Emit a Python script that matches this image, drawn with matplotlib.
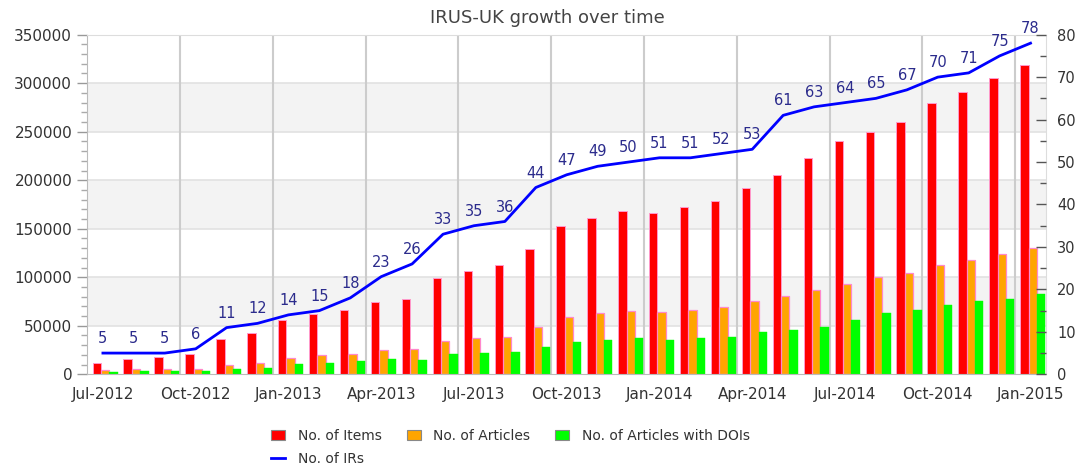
import matplotlib
matplotlib.use("Agg")
import matplotlib.pyplot as plt
import numpy as np
from matplotlib.patches import Patch
from matplotlib.lines import Line2D
from matplotlib.ticker import MultipleLocator

months = ['Jul-2012', 'Aug-2012', 'Sep-2012', 'Oct-2012', 'Nov-2012', 'Dec-2012',
          'Jan-2013', 'Feb-2013', 'Mar-2013', 'Apr-2013', 'May-2013', 'Jun-2013',
          'Jul-2013', 'Aug-2013', 'Sep-2013', 'Oct-2013', 'Nov-2013', 'Dec-2013',
          'Jan-2014', 'Feb-2014', 'Mar-2014', 'Apr-2014', 'May-2014', 'Jun-2014',
          'Jul-2014', 'Aug-2014', 'Sep-2014', 'Oct-2014', 'Nov-2014', 'Dec-2014',
          'Jan-2015']
items = [12000, 15800, 18200, 21000, 36400, 42600, 55600, 61800, 66000, 74500, 77300,
         98900, 106500, 113000, 129500, 152500, 161400, 168000, 166600, 172800, 178300,
         192000, 205100, 222900, 240800, 249700, 259700, 279300, 290600, 305700, 318400]
articles = [4100, 5500, 5500, 5500, 9300, 12000, 16500, 19600, 21000, 24700, 26100,
            34700, 37100, 38500, 48800, 59100, 62900, 65300, 63900, 66600, 69400,
            75600, 80700, 87200, 93400, 100000, 104800, 112700, 117800, 124000, 130500]
dois = [2750, 3100, 3100, 3800, 5500, 6500, 10600, 11700, 13400, 15500, 14400,
        20600, 22000, 23400, 28200, 33300, 35700, 37100, 35700, 37100, 38500,
        43600, 46000, 48800, 56300, 62900, 66600, 71800, 75600, 78000, 83100]
irs = [5, 5, 5, 6, 11, 12, 14, 15, 18, 23, 26, 33, 35, 36, 44, 47, 49, 50, 51, 51,
       52, 53, 61, 63, 64, 65, 67, 70, 71, 75, 78]

plt.rcParams['font.family'] = ['DejaVu Sans']

fig = plt.figure(figsize=(10.77, 4.68), dpi=100)
ax = fig.add_axes([0.0812, 0.2002, 0.8900, 0.7257])

x = np.arange(len(months))
ax.set_xlim(-0.5, len(months) - 0.5)
ax.set_ylim(0, 350000)

# alternating bands + grid
for lo in range(50000, 350000, 100000):
    ax.axhspan(lo, lo + 50000, color='#f3f3f3', zorder=0, lw=0)
for yv in range(50000, 350000, 50000):
    ax.axhline(yv, color='#e2e2e2', lw=1.2, zorder=0.5)
for i in range(3, len(months), 3):
    ax.axvline(i - 0.5, color='#cccccc', lw=1.5, zorder=0.5)

w = 0.27
ax.bar(x - 0.20, items, width=w, color='#ff0000', edgecolor='#ff99cc', lw=0.7, zorder=2)
ax.bar(x + 0.07, articles, width=w, color='#ffa500', edgecolor='#ff88cc', lw=0.9, zorder=2)
ax.bar(x + 0.34, dois, width=w, color='#00ff00', edgecolor='#00ff00', lw=0.3, zorder=2)

ax.set_xticks(x[::3])
ax.set_xticklabels(months[::3])
ax.tick_params(axis='x', length=0, pad=9, labelsize=11, labelcolor='#333333')
ax.yaxis.set_major_locator(MultipleLocator(50000))
ax.yaxis.set_minor_locator(MultipleLocator(10000))
ax.tick_params(axis='y', which='major', length=7, width=1, color='#999999',
               labelsize=11, labelcolor='#333333', pad=4)
ax.tick_params(axis='y', which='minor', length=4, width=1, color='#aaaaaa')

for s in ['top', 'right']:
    ax.spines[s].set_color('#dddddd')
ax.spines['left'].set_color('#bbbbbb')
ax.spines['bottom'].set_color('#bbbbbb')

ax2 = ax.twinx()
ax2.set_ylim(0, 80)
ax2.plot(x, irs, color='#0000ff', lw=2, zorder=5)
for xi, v in zip(x, irs):
    ax2.annotate(str(v), (xi, v), xytext=(0, 5), textcoords='offset points',
                 ha='center', va='bottom', fontsize=10.5, color='#2b2b8c')
ax2.yaxis.set_major_locator(MultipleLocator(10))
ax2.yaxis.set_minor_locator(MultipleLocator(5))
ax2.tick_params(axis='y', which='major', direction='in', length=7, width=1,
                color='#555555', labelsize=10.5, labelcolor='#333333', pad=8)
ax2.tick_params(axis='y', which='minor', direction='in', length=4, width=1,
                color='#555555')
for s in ['top', 'right', 'left', 'bottom']:
    ax2.spines[s].set_visible(False)

fig.text(0.508, 0.962, 'IRUS-UK growth over time', ha='center', va='center',
         fontsize=13, color='#444444')

handles = [Patch(facecolor='#ff0000', edgecolor='#888888', lw=0.8),
           Line2D([0], [0], color='#0000ff', lw=2),
           Patch(facecolor='#ffa500', edgecolor='#888888', lw=0.8),
           Patch(facecolor='#00ff00', edgecolor='#888888', lw=0.8)]
labels = ['No. of Items', 'No. of IRs', 'No. of Articles', 'No. of Articles with DOIs']
leg = fig.legend(handles, labels, ncol=3, loc='upper center',
                 bbox_to_anchor=(0.474, 0.083), frameon=False, fontsize=10,
                 handlelength=1.0, handleheight=0.7, handletextpad=0.9,
                 columnspacing=1.8, labelspacing=0.65, borderaxespad=0,
                 borderpad=0)
for t in leg.get_texts():
    t.set_color('#333333')

fig.savefig('out.png', dpi=100, facecolor='white')
